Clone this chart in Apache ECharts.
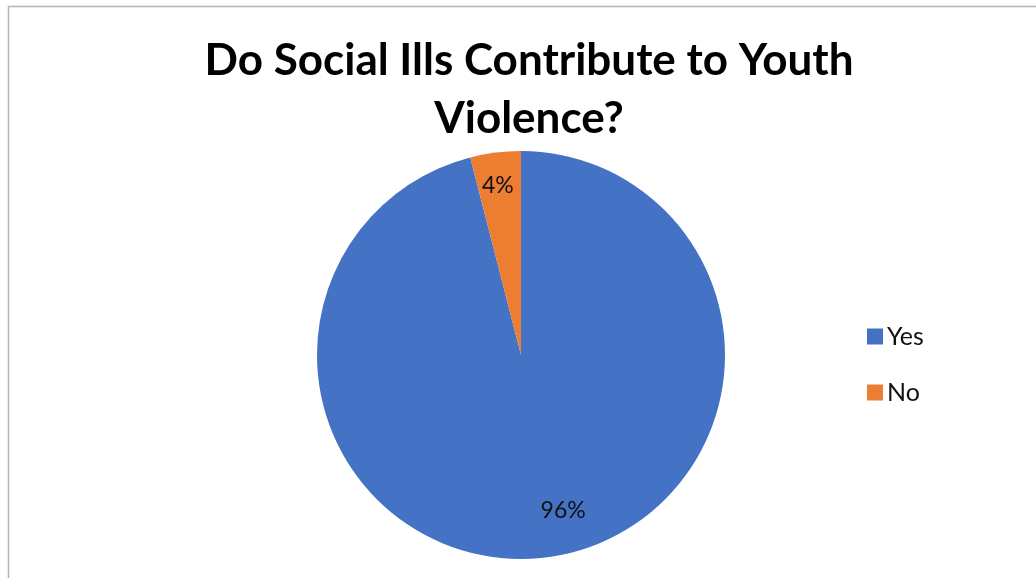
<!DOCTYPE html>
<html>
<head>
<meta charset="utf-8">
<script src="https://cdn.jsdelivr.net/npm/echarts@6/dist/echarts.min.js"></script>
<style>
html,body{margin:0;padding:0;background:#fff;}
#chart{width:1036px;height:578px;}
</style>
</head>
<body>
<div id="chart"></div>
<script>
const titleText = 'Do Social Ills Contribute to Youth\nViolence?';
const categories = ['Yes', 'No'];
const values = [96, 4];
const colors = ['#4472C4', '#ED7D31'];

const pieData = categories.map((c, i) => ({ name: c, value: values[i], itemStyle: { color: colors[i] } }));
const labelOffsets = [[21, -12], [-2, -2]];
const labelData = categories.map((c, i) => ({ name: c, value: values[i], label: { offset: labelOffsets[i] } }));

const chart = echarts.init(document.getElementById('chart'), null, { renderer: 'canvas' });
chart.setOption({
  animation: false,
  backgroundColor: '#ffffff',
  graphic: [{
    type: 'rect',
    shape: { x: 8.5, y: 6.5, width: 1100, height: 700 },
    style: { fill: 'none', stroke: '#b5b5b5', lineWidth: 1.5 },
    silent: true
  }],
  title: {
    text: titleText,
    left: 524,
    top: 27,
    textAlign: 'center',
    textStyle: {
      fontFamily: 'Lato',
      fontWeight: 'bold',
      fontSize: 44,
      lineHeight: 58,
      color: '#000000'
    }
  },
  legend: {
    orient: 'vertical',
    left: 862,
    top: 319,
    itemWidth: 16,
    itemHeight: 16,
    itemGap: 31,
    icon: 'rect',
    data: categories,
    textStyle: { fontFamily: 'Lato', fontSize: 25, color: '#111111', padding: [0, 0, 0, -1] }
  },
  series: [{
    type: 'pie',
    center: [521, 355],
    radius: [0, 204],
    startAngle: 90,
    clockwise: true,
    data: pieData,
    label: { show: false },
    labelLine: { show: false },
    emphasis: { disabled: true },
    silent: true
  }, {
    type: 'pie',
    center: [521, 355],
    radius: [127, 204],
    startAngle: 90,
    clockwise: true,
    data: labelData,
    itemStyle: { color: 'rgba(0,0,0,0)' },
    label: {
      show: true,
      position: 'inside',
      formatter: '{c}%',
      fontFamily: 'Lato',
      fontSize: 23,
      color: '#111111'
    },
    labelLine: { show: false },
    emphasis: { disabled: true },
    silent: true
  }]
});
</script>
</body>
</html>
